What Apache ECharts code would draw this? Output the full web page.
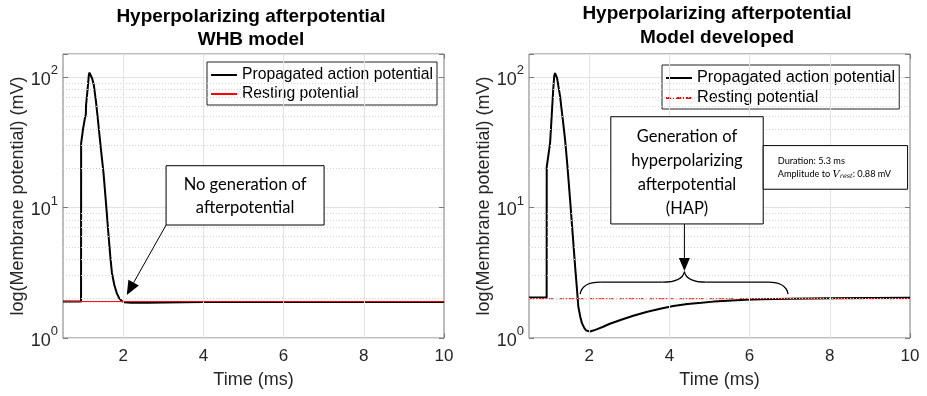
<!DOCTYPE html>
<html>
<head>
<meta charset="utf-8">
<script src="https://cdn.jsdelivr.net/npm/echarts@6/dist/echarts.min.js"></script>
<style>
html, body { margin: 0; padding: 0; background: #fff; }
#chart { width: 927px; height: 396px; }
</style>
</head>
<body>
<div id="chart"></div>
<script>
// left panel: WHB model
var whbTime = [0.5, 0.95, 0.952, 1.0, 1.05, 1.07, 1.075, 1.1, 1.13, 1.145, 1.16, 1.18, 1.23, 1.27, 1.32, 1.38, 1.44, 1.51, 1.57, 1.63, 1.68, 1.72, 1.78, 1.84, 1.9, 1.96, 2.02, 2.2, 2.6, 3.0, 3.5, 4.0, 10]
var whbVm = [1.9, 1.9, 31, 40, 49, 52, 61, 73, 92, 104, 108, 106, 97, 86, 66, 44, 29, 18.4, 11, 6.4, 4.2, 3.15, 2.55, 2.21, 2.02, 1.93, 1.88, 1.86, 1.86, 1.87, 1.88, 1.89, 1.89]
var whbRestTime = [0.5, 10]
var whbRest = [1.9, 1.9]

// right panel: model developed
var devTime = [0.5, 0.94, 0.942, 1.025, 1.055, 1.08, 1.105, 1.13, 1.15, 1.2, 1.275, 1.34, 1.4, 1.46, 1.525, 1.59, 1.65, 1.69, 1.73, 1.78, 1.82, 1.88, 1.93, 1.97, 2.02, 2.1, 2.2, 2.35, 2.5, 2.8, 3.1, 3.45, 3.8, 4.1, 4.45, 4.8, 5.1, 5.45, 5.9, 6.3, 7.0, 8.0, 10]
var devVm = [2.04, 2.04, 20.5, 31, 44, 60, 81, 102, 107, 98, 71, 48, 33, 20.5, 11.4, 6.2, 3.52, 2.5, 1.74, 1.45, 1.30, 1.19, 1.14, 1.12, 1.12, 1.14, 1.17, 1.22, 1.28, 1.38, 1.48, 1.59, 1.68, 1.76, 1.82, 1.86, 1.9, 1.93, 1.96, 1.98, 2.0, 2.02, 2.03]
var devRestTime = [0.5, 10]
var devRest = [2.0, 2.0]

var xTicks = [2, 4, 6, 8, 10]
var xGrid = [2, 4, 6, 8]
var yMinor = [2, 3, 4, 5, 6, 7, 8, 9, 20, 30, 40, 50, 60, 70, 80, 90]

var titles = ['Hyperpolarizing afterpotential\nWHB model', 'Hyperpolarizing afterpotential\nModel developed']
var names = [['Propagated action potential', 'Resting potential'], ['Propagated action potential ', 'Resting potential ']]

var AX = '#7a7a7a', TXT = '#262626'
var SANS = '"Liberation Sans", Arial, sans-serif'
var CAL = 'Lato, "Open Sans", sans-serif'

function pairs(t, v) {
    return t.map(function (x, i) { return [x, v[i]] })
}

var grids = [
    { left: 63, right: 483, top: 54, bottom: 58 },
    { left: 529, right: 17, top: 54, bottom: 58 }
]

var xAxes = [], yAxes = []
grids.forEach(function (g, i) {
    g.show = true
    g.borderColor = AX
    g.borderWidth = 1
    ;['bottom', 'top'].forEach(function (pos) {
        xAxes.push({
            type: 'value', gridIndex: i, position: pos, min: 0.5, max: 10,
            axisLine: { show: false },
            splitLine: { show: false },
            axisTick: { show: true, inside: true, length: 5, customValues: xTicks, lineStyle: { color: AX } },
            axisLabel: { show: pos == 'bottom', customValues: xTicks, margin: 10, fontSize: 17, fontFamily: SANS, color: TXT },
            name: pos == 'bottom' ? 'Time (ms)' : '',
            nameLocation: 'middle', nameGap: 33,
            nameTextStyle: { fontSize: 18, fontFamily: SANS, color: TXT }
        })
    })
    ;['left', 'right'].forEach(function (pos) {
        yAxes.push({
            type: 'log', logBase: 10, gridIndex: i, position: pos, min: 1, max: 150,
            axisLine: { show: false },
            splitLine: { show: pos == 'left', lineStyle: { color: '#e3e3e3' } },
            axisTick: { show: true, inside: true, length: 5, lineStyle: { color: AX } },
            axisLabel: {
                show: pos == 'left', margin: 5, fontFamily: SANS, color: TXT,
                formatter: function (v) {
                    var e = Math.round(Math.log(v) / Math.LN10)
                    if (Math.abs(Math.pow(10, e) - v) > 1e-6) return ''
                    return '{b|10}{s|' + e + '}'
                },
                rich: {
                    b: { fontSize: 18, lineHeight: 26, fontFamily: SANS, color: TXT, padding: [6, 0, 0, 0] },
                    s: { fontSize: 13, lineHeight: 13, fontFamily: SANS, color: TXT, verticalAlign: 'top' }
                }
            },
            name: pos == 'left' ? 'log(Membrane potential) (mV)' : '',
            nameLocation: 'middle', nameGap: 35,
            nameTextStyle: { fontSize: 18, fontFamily: SANS, color: TXT }
        })
    })
})

function gridCarrier(i) {
    return {
        type: 'line', xAxisIndex: i * 2, yAxisIndex: i * 2, data: [[0.5, 1]],
        symbol: 'none', lineStyle: { width: 0 }, silent: true, z: 1,
        markLine: {
            silent: true, symbol: 'none', label: { show: false }, animation: false,
            data: yMinor.map(function (v) {
                return { yAxis: v, lineStyle: { type: [1, 2], color: '#d2d2d2', width: 1 } }
            }).concat(xGrid.map(function (v) {
                return { xAxis: v, lineStyle: { type: 'solid', color: '#e3e3e3', width: 1 } }
            }))
        }
    }
}

var series = [
    gridCarrier(0),
    {
        name: names[0][0], type: 'line', xAxisIndex: 0, yAxisIndex: 0,
        data: pairs(whbTime, whbVm), symbol: 'none', z: 3,
        lineStyle: { color: '#000', width: 2 }, itemStyle: { color: '#000' }
    },
    {
        name: names[0][1], type: 'line', xAxisIndex: 0, yAxisIndex: 0,
        data: pairs(whbRestTime, whbRest), symbol: 'none', z: 4,
        lineStyle: { color: '#ff0000', width: 1 }, itemStyle: { color: '#ff0000' }
    },
    gridCarrier(1),
    {
        name: names[1][0], type: 'line', xAxisIndex: 2, yAxisIndex: 2,
        data: pairs(devTime, devVm), symbol: 'none', z: 3,
        lineStyle: { color: '#000', width: 2 }, itemStyle: { color: '#000' }
    },
    {
        name: names[1][1], type: 'line', xAxisIndex: 2, yAxisIndex: 2,
        data: pairs(devRestTime, devRest), symbol: 'none', z: 4,
        lineStyle: { color: '#ff0000', width: 1, type: [5, 2, 1, 2] }, itemStyle: { color: '#ff0000' }
    }
]

function legendFor(i, left, top, size, gap) {
    return {
        data: names[i], orient: 'vertical', left: left, top: top,
        backgroundColor: '#fff', borderColor: '#222', borderWidth: 1,
        padding: [5, 4, 3, 3], itemGap: gap, itemWidth: 26, itemHeight: 14,
        selectedMode: false,
        itemStyle: { opacity: 0 },
        formatter: function (n) { return n.trim() },
        textStyle: { fontSize: size, fontFamily: SANS, color: '#000' }
    }
}

var chart = echarts.init(document.getElementById('chart'))
chart.setOption({
    animation: false,
    backgroundColor: '#fff',
    title: [
        { text: titles[0], left: 251, top: 5, padding: 0, textAlign: 'center',
          textStyle: { fontSize: 19, fontWeight: 'bold', fontFamily: SANS, color: '#000', lineHeight: 23 } },
        { text: titles[1], left: 717, top: 2, padding: 0, textAlign: 'center',
          textStyle: { fontSize: 19, fontWeight: 'bold', fontFamily: SANS, color: '#000', lineHeight: 24 } }
    ],
    legend: [legendFor(0, 207, 62, 15.7, 3), legendFor(1, 662, 65, 16.3, 4)],
    grid: grids,
    xAxis: xAxes,
    yAxis: yAxes,
    series: series
})

// annotations, anchored in axis units
var leftNote = { box: [3.07, 20.9, 7.01, 7.34], text: 'No generation of\nafterpotential', arrowTo: [2.09, 2.14] }
var rightNote = { box: [2.54, 49.6, 6.34, 7.48], text: 'Generation of\nhyperpolarizing\nafterpotential\n(HAP)', arrowX: 4.375, arrowTo: 3.26 }
var brace = { from: [1.775, 2.17], tip: [4.375, 3.23], to: [6.96, 2.17] }
var infoBox = { box: [6.34, 29.8, 9.94, 13.8], text: 'Duration: 5.3 ms\nAmplitude to {v|V}{s|rest}: 0.88 mV' }

function px(g, p) { return chart.convertToPixel({ gridIndex: g }, p) }
function rectOf(g, b) {
    var a = px(g, [b[0], b[1]]), c = px(g, [b[2], b[3]])
    return { x: a[0], y: a[1], width: c[0] - a[0], height: c[1] - a[1] }
}
function arrow(from, to, len, half) {
    var dx = to[0] - from[0], dy = to[1] - from[1], d = Math.sqrt(dx * dx + dy * dy)
    var ux = dx / d, uy = dy / d
    var bx = to[0] - ux * len, by = to[1] - uy * len
    return [
        { type: 'line', z: 100, shape: { x1: from[0], y1: from[1], x2: bx, y2: by }, style: { stroke: '#000', lineWidth: 1 } },
        { type: 'polygon', z: 100, shape: { points: [to, [bx - uy * half, by + ux * half], [bx + uy * half, by - ux * half]] }, style: { fill: '#000' } }
    ]
}
function curve(a, c, b) {
    return { type: 'bezierCurve', z: 100, shape: { x1: a[0], y1: a[1], cpx1: c[0], cpy1: c[1], x2: b[0], y2: b[1] },
        style: { fill: null, stroke: '#000', lineWidth: 1.3 } }
}
function seg(a, b) {
    return { type: 'line', z: 100, shape: { x1: a[0], y1: a[1], x2: b[0], y2: b[1] }, style: { stroke: '#000', lineWidth: 1.3 } }
}

var els = []
var r1 = rectOf(0, leftNote.box)
els.push({ type: 'rect', z: 100, shape: r1, style: { fill: '#fff', stroke: '#000', lineWidth: 1 } })
els.push({ type: 'text', z: 101, x: r1.x + r1.width / 2, y: r1.y + r1.height / 2 + 1,
    style: { text: leftNote.text, align: 'center', verticalAlign: 'middle', fontSize: 16.5, lineHeight: 23, fontFamily: CAL, fill: '#000' } })
els = els.concat(arrow([r1.x, r1.y + r1.height], px(0, leftNote.arrowTo), 14, 6))

var r2 = rectOf(1, rightNote.box)
els.push({ type: 'rect', z: 100, shape: r2, style: { fill: '#fff', stroke: '#000', lineWidth: 1 } })
els.push({ type: 'text', z: 101, x: r2.x + r2.width / 2, y: r2.y + r2.height / 2 + 2,
    style: { text: rightNote.text, align: 'center', verticalAlign: 'middle', fontSize: 16.5, lineHeight: 24, fontFamily: CAL, fill: '#000' } })
var a0 = px(1, [rightNote.arrowX, rightNote.box[3]]), a1 = px(1, [rightNote.arrowX, rightNote.arrowTo])
els = els.concat(arrow(a0, a1, 13, 5.5))

var r3 = rectOf(1, infoBox.box)
els.push({ type: 'rect', z: 100, shape: r3, style: { fill: '#fff', stroke: '#000', lineWidth: 1 } })
els.push({ type: 'text', z: 101, x: r3.x + 14.5, y: r3.y + r3.height / 2,
    style: { text: infoBox.text, align: 'left', verticalAlign: 'middle', fontSize: 9.2, lineHeight: 13.3, fontFamily: CAL, fill: '#000',
        rich: {
            v: { fontSize: 10, fontStyle: 'italic', fontFamily: '"DejaVu Serif", serif', fill: '#000', lineHeight: 13.3 },
            s: { fontSize: 6.5, fontStyle: 'italic', fontFamily: '"DejaVu Serif", serif', fill: '#000', lineHeight: 13.3, padding: [5, 0, 0, 0] }
        } } })

// curly brace over the hyperpolarizing phase
var L = px(1, brace.from), T = px(1, brace.tip), R = px(1, brace.to)
var arm = L[1] - 12
els.push(curve(L, [L[0] + 2, arm], [L[0] + 20, arm]))
els.push(seg([L[0] + 20, arm], [T[0] - 22, arm]))
els.push(curve([T[0] - 22, arm], [T[0] - 2, arm], T))
els.push(curve(T, [T[0] + 2, arm], [T[0] + 22, arm]))
els.push(seg([T[0] + 22, arm], [R[0] - 20, arm]))
els.push(curve([R[0] - 20, arm], [R[0] - 2, arm], R))

chart.setOption({ graphic: { elements: els } })
</script>
</body>
</html>
